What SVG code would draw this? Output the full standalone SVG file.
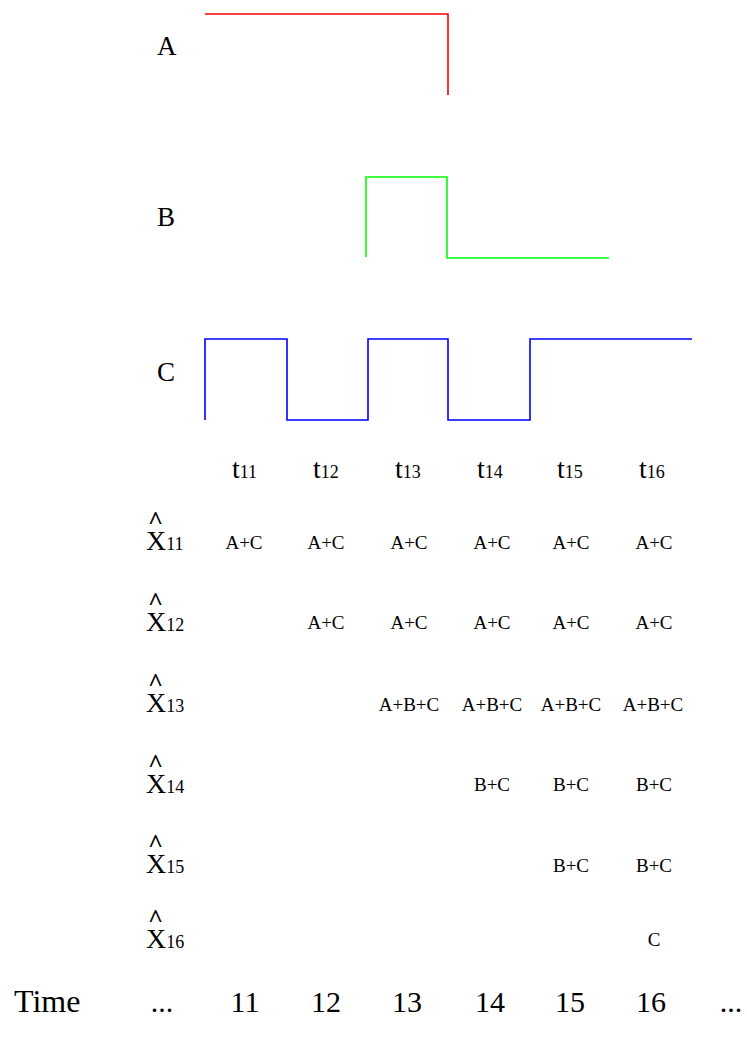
<svg xmlns="http://www.w3.org/2000/svg" width="747" height="1050" viewBox="0 0 747 1050">
<style>
text{font-family:"Liberation Serif","Times New Roman",serif;fill:#000}
.lbl{font-size:27px}
.t{font-size:28px}
.sub{font-size:18px}
.x{font-size:28px}
.hat{font-size:26px;font-weight:bold}
.cell{font-size:19px;text-anchor:middle}
.time{font-size:32px}
.tn{font-size:30px;text-anchor:middle}
.wave{fill:none;stroke-width:1.6}
</style>
<rect width="747" height="1050" fill="#fff"/>
<g id="signalA">
<text class="lbl" x="157" y="55">A</text>
<polyline class="wave" stroke="#ff0000" points="205,14 448,14 448,95"/>
</g>
<g id="signalB">
<text class="lbl" x="157" y="226">B</text>
<polyline class="wave" stroke="#00ff00" points="366,257 366,177 447,177 447,258 609,258"/>
</g>
<g id="signalC">
<text class="lbl" x="157" y="381">C</text>
<polyline class="wave" stroke="#0000ff" points="205,420 205,339 287,339 287,420 368,420 368,339 448,339 448,420 530,420 530,339 692,339"/>
</g>
<g id="tlabels">
<text class="t" x="232" y="478">t<tspan class="sub">11</tspan></text>
<text class="t" x="313" y="478">t<tspan class="sub">12</tspan></text>
<text class="t" x="395" y="478">t<tspan class="sub">13</tspan></text>
<text class="t" x="477" y="478">t<tspan class="sub">14</tspan></text>
<text class="t" x="557" y="478">t<tspan class="sub">15</tspan></text>
<text class="t" x="639" y="478">t<tspan class="sub">16</tspan></text>
</g>
<g id="row11">
<text class="hat" x="148" y="529">^</text>
<text class="x" x="146" y="550">X<tspan class="sub">11</tspan></text>
<text class="cell" x="244" y="549">A+C</text>
<text class="cell" x="326" y="549">A+C</text>
<text class="cell" x="409" y="549">A+C</text>
<text class="cell" x="492" y="549">A+C</text>
<text class="cell" x="571" y="549">A+C</text>
<text class="cell" x="654" y="549">A+C</text>
</g>
<g id="row12">
<text class="hat" x="148" y="610">^</text>
<text class="x" x="146" y="631">X<tspan class="sub">12</tspan></text>
<text class="cell" x="326" y="629">A+C</text>
<text class="cell" x="409" y="629">A+C</text>
<text class="cell" x="492" y="629">A+C</text>
<text class="cell" x="571" y="629">A+C</text>
<text class="cell" x="654" y="629">A+C</text>
</g>
<g id="row13">
<text class="hat" x="148" y="691">^</text>
<text class="x" x="146" y="712">X<tspan class="sub">13</tspan></text>
<text class="cell" x="409" y="711">A+B+C</text>
<text class="cell" x="492" y="711">A+B+C</text>
<text class="cell" x="571" y="711">A+B+C</text>
<text class="cell" x="653" y="711">A+B+C</text>
</g>
<g id="row14">
<text class="hat" x="148" y="772">^</text>
<text class="x" x="146" y="793">X<tspan class="sub">14</tspan></text>
<text class="cell" x="492" y="791">B+C</text>
<text class="cell" x="571" y="791">B+C</text>
<text class="cell" x="654" y="791">B+C</text>
</g>
<g id="row15">
<text class="hat" x="148" y="852">^</text>
<text class="x" x="146" y="873">X<tspan class="sub">15</tspan></text>
<text class="cell" x="571" y="872">B+C</text>
<text class="cell" x="654" y="872">B+C</text>
</g>
<g id="row16">
<text class="hat" x="148" y="927">^</text>
<text class="x" x="146" y="948">X<tspan class="sub">16</tspan></text>
<text class="cell" x="654" y="946">C</text>
</g>
<g id="timeaxis">
<text class="time" x="14" y="1012">Time</text>
<text class="tn" x="162" y="1012">...</text>
<text class="tn" x="245" y="1012">11</text>
<text class="tn" x="326" y="1012">12</text>
<text class="tn" x="407" y="1012">13</text>
<text class="tn" x="490" y="1012">14</text>
<text class="tn" x="570" y="1012">15</text>
<text class="tn" x="651" y="1012">16</text>
<text class="tn" x="731" y="1012">...</text>
</g>
</svg>
